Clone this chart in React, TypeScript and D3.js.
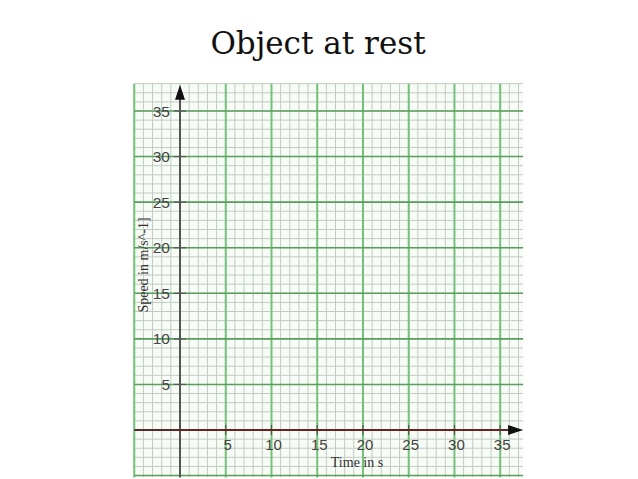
import React from 'react';
import * as d3 from 'd3';

// chart data: object at rest, speed stays at zero
const times = [0, 5, 10, 15, 20, 25, 30, 35];
const speeds = [0, 0, 0, 0, 0, 0, 0, 0];
const xTicks = [5, 10, 15, 20, 25, 30, 35];
const yTicks = [5, 10, 15, 20, 25, 30, 35];
const title = 'Object at rest';
const xLabel = 'Time in s';
const yLabel = 'Speed in m/s^-1]';

const W = 638;
const H = 479;

export default function App() {
  const x = d3.scaleLinear().domain([0, 35]).range([180, 500.2]);
  const y = d3.scaleLinear().domain([0, 35]).range([430, 111]);

  const gx0 = -5, gx1 = 37.5;
  const gy0 = -5.2, gy1 = 38;

  const minorX = d3.range(-5, 38, 1);
  const minorY = d3.range(-5, 39, 1);
  const majorX = d3.range(-5, 40, 5).filter(v => v !== 0 && v <= gx1);
  const majorY = d3.range(-5, 40, 5).filter(v => v !== 0 && v <= gy1);

  const line = d3.line<number>()
    .x((_, i) => x(times[i]))
    .y(d => y(d));

  const xTip = x(gx1);
  const yTip = y(gy1) + 1;

  return (
    <svg width={W} height={H} style={{ position: 'absolute', left: 0, top: 0, background: '#fff' }}>
      <text x={318} y={54} textAnchor="middle" fontFamily="'DejaVu Serif', serif"
        fontSize={31} fill="#111">{title}</text>

      {/* graph paper */}
      <rect x={x(gx0)} y={y(gy1)} width={x(gx1) - x(gx0)} height={y(gy0) - y(gy1)} fill="#f8fcf7" />
      <g stroke="#c2cbc2" strokeWidth={1}>
        {minorX.map(v => (
          <line key={'mx' + v} x1={x(v)} x2={x(v)} y1={y(gy0)} y2={y(gy1)} />
        ))}
        {minorY.map(v => (
          <line key={'my' + v} x1={x(gx0)} x2={x(gx1)} y1={y(v)} y2={y(v)} />
        ))}
      </g>
      <g stroke="#74c27a" strokeWidth={2}>
        {majorX.map(v => (
          <line key={'Mx' + v} x1={x(v)} x2={x(v)} y1={y(gy0)} y2={y(gy1)} />
        ))}
      </g>
      <g stroke="#5a9e5e" strokeWidth={1.6}>
        {majorY.map(v => (
          <line key={'My' + v} x1={x(gx0)} x2={x(gx1)} y1={y(v)} y2={y(v)} />
        ))}
      </g>

      {/* y axis */}
      <line x1={x(0)} x2={x(0)} y1={y(gy0)} y2={yTip + 10} stroke="#555" strokeWidth={2} />
      <path d={`M${x(0)},${yTip} L${x(0) - 5},${yTip + 15} L${x(0) + 5},${yTip + 15} Z`} fill="#111" />
      {yTicks.map(v => (
        <g key={'yt' + v}>
          <line x1={x(0) - 6} x2={x(0) + 6} y1={y(v)} y2={y(v)} stroke="#555" strokeWidth={1.2} />
          <text x={x(0) - 10} y={y(v)} dy="0.36em" textAnchor="end"
            fontFamily="'Liberation Sans', Arial, sans-serif" fontSize={15.5} fill="#444">{v}</text>
        </g>
      ))}

      {/* x axis */}
      <line x1={x(gx0)} x2={xTip - 10} y1={y(0)} y2={y(0)} stroke="#5a2a2a" strokeWidth={2} />
      <path d={`M${xTip},${y(0)} L${xTip - 15},${y(0) - 5} L${xTip - 15},${y(0) + 5} Z`} fill="#111" />
      {xTicks.map(v => (
        <g key={'xt' + v}>
          <line x1={x(v)} x2={x(v)} y1={y(0) - 5} y2={y(0) + 5} stroke="#555" strokeWidth={1.2} />
          <text x={x(v) + 2} y={450} textAnchor="middle"
            fontFamily="'Liberation Sans', Arial, sans-serif" fontSize={15} fill="#444">{v}</text>
        </g>
      ))}

      {/* data line */}
      <path d={line(speeds) || ''} fill="none" stroke="#6b2020" strokeWidth={2} />

      <text x={357} y={467} textAnchor="middle" fontFamily="'Liberation Serif', serif"
        fontSize={14} fill="#333">{xLabel}</text>
      <text transform="translate(148,265) rotate(-90)" textAnchor="middle"
        fontFamily="'Liberation Serif', serif" fontSize={14} fill="#333">{yLabel}</text>
    </svg>
  );
}
